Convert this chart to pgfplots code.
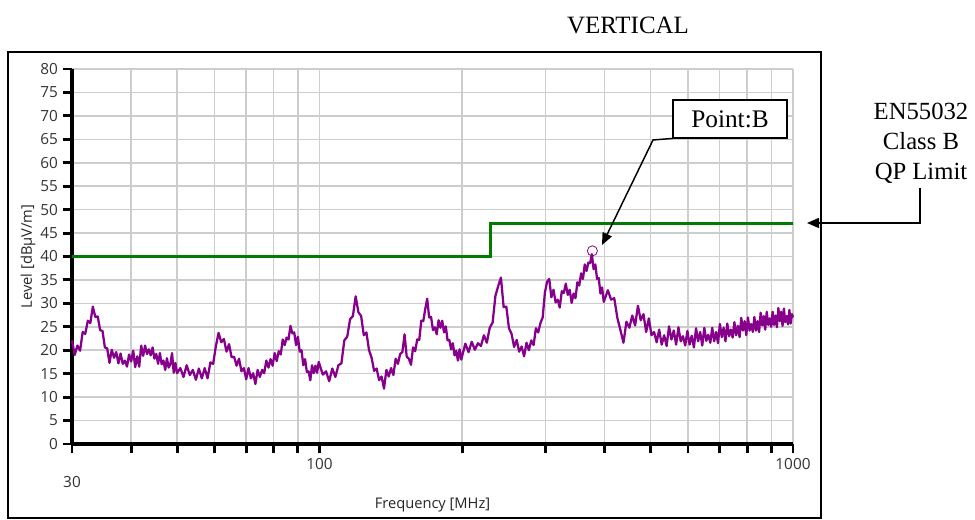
\documentclass[border=0pt]{standalone}
\usepackage{fontspec}
\setmainfont{Liberation Serif}
\newfontfamily\segoe{Open Sans}
\usepackage{pgfplots}
\usepackage{pgfplotstable}
\pgfplotsset{compat=1.18}
\usetikzlibrary{arrows.meta}
\definecolor{trace}{RGB}{135,0,140}
\definecolor{limitgreen}{RGB}{0,125,0}
\definecolor{gridgray}{RGB}{205,205,205}

\pgfplotstableread{
f L
30.0 22.1
30.4 19.0
30.8 21.0
31.2 19.9
31.6 23.9
32.0 23.5
32.4 26.3
32.8 25.8
33.2 29.3
33.6 27.1
34.0 27.2
34.4 24.3
34.8 24.1
35.2 20.6
35.6 20.4
36.0 17.3
36.4 20.1
36.8 18.4
37.2 19.6
37.6 17.2
38.0 19.3
38.4 17.1
38.8 17.8
39.2 16.5
39.6 19.1
40.0 17.6
40.4 19.9
40.8 16.4
41.2 18.7
41.6 16.5
42.0 21.0
42.4 18.8
42.8 21.0
43.2 19.2
43.6 20.2
44.0 18.9
44.4 20.6
44.8 18.2
45.2 19.2
45.6 17.1
46.0 19.4
46.4 17.0
46.8 17.8
47.2 15.8
47.6 18.3
48.0 16.3
48.4 17.0
48.8 19.4
49.2 15.2
49.6 17.3
50.0 15.1
50.8 16.2
51.6 14.3
52.4 16.8
53.2 14.7
54.0 15.8
54.8 13.7
55.6 16.1
56.4 14.0
57.2 16.2
58.0 14.0
58.8 17.4
59.6 17.1
60.4 20.9
61.2 23.7
62.0 21.7
62.8 22.4
63.6 19.7
64.4 21.3
65.2 18.5
66.0 18.6
66.8 16.7
67.6 18.2
68.4 15.5
69.2 16.2
70.0 13.8
70.8 16.2
71.6 14.0
72.4 15.1
73.2 12.8
74.0 15.8
74.8 14.3
75.6 15.8
76.4 15.1
77.2 17.8
78.0 16.3
78.8 18.1
79.6 16.7
80.4 19.4
81.2 17.7
82.0 19.8
82.8 19.1
83.6 22.3
84.4 21.1
85.2 22.7
86.0 22.3
86.8 25.2
87.6 23.6
88.4 23.8
89.2 21.1
90.0 22.9
90.8 19.7
91.6 20.0
92.4 16.8
93.2 18.1
94.0 15.4
94.8 15.5
95.6 13.6
96.4 16.8
97.2 15.1
98.0 16.7
98.8 15.2
99.6 17.5
101.6 14.8
103.2 15.5
104.8 13.4
106.4 16.1
108.0 14.3
109.6 16.8
111.2 17.2
112.8 22.1
114.4 22.9
116.0 26.6
117.6 27.3
119.2 31.5
120.8 28.1
122.4 27.3
124.0 23.2
125.6 23.8
127.2 20.0
128.8 18.4
130.4 15.6
132.0 16.1
133.6 13.6
135.2 14.4
136.8 11.8
138.4 15.8
140.0 14.4
141.6 16.2
143.2 14.7
144.8 18.2
146.4 17.1
148.0 19.2
149.6 19.6
151.2 23.4
152.8 18.6
154.4 18.2
156.0 16.9
157.6 20.6
159.2 19.8
160.8 22.3
162.4 22.2
164.0 26.3
165.6 26.2
167.2 28.8
168.8 31.0
170.4 27.0
172.0 27.1
173.6 24.3
175.2 24.9
176.8 23.4
178.4 26.4
180.0 24.8
181.6 26.3
183.2 23.8
184.8 25.1
186.4 22.1
188.0 22.2
189.6 20.2
191.2 21.5
192.8 18.9
194.4 19.9
196.0 17.8
197.6 20.2
199.2 18.0
203.2 21.4
206.4 19.6
209.6 21.8
212.8 20.1
216.0 21.5
219.2 20.9
222.4 23.2
225.6 21.6
228.8 24.8
232.0 25.9
235.2 31.6
238.4 33.7
241.6 35.5
244.8 29.2
248.0 29.3
251.2 24.7
254.4 23.5
257.6 20.7
260.8 22.2
264.0 19.7
267.2 20.8
270.4 18.7
273.6 21.6
276.8 20.0
280.0 22.1
283.2 21.1
286.4 24.7
289.6 23.8
292.8 25.8
296.0 27.0
299.2 32.3
302.4 34.6
305.6 35.2
308.8 31.3
312.0 32.9
315.2 30.2
318.4 30.8
321.6 29.1
324.8 32.6
328.0 32.2
331.2 34.2
334.4 31.8
337.6 32.9
340.8 30.1
344.0 32.1
347.2 31.1
350.4 34.5
353.6 33.8
356.8 36.4
360.0 35.2
363.2 38.3
366.4 36.9
369.6 38.7
372.8 38.6
376.0 40.5
379.2 37.3
382.4 38.3
385.6 35.2
388.8 35.4
392.0 32.1
395.2 33.4
398.4 30.3
406.4 32.8
412.8 30.8
419.2 31.1
425.6 26.9
432.0 24.3
438.4 21.6
444.8 26.1
451.2 24.8
457.6 27.4
464.0 25.3
470.4 29.5
476.8 26.4
483.2 27.7
489.6 23.9
496.0 26.8
502.4 23.2
508.8 23.9
515.2 21.7
521.6 24.4
528.0 21.2
534.4 23.2
540.8 20.9
547.2 25.1
553.6 22.3
560.0 24.2
566.4 21.2
572.8 24.9
579.2 21.9
585.6 23.0
592.0 21.0
598.4 24.1
604.8 21.2
611.2 23.1
617.6 20.6
624.0 24.7
630.4 21.9
636.8 23.9
643.2 21.0
649.6 24.8
656.0 22.0
662.4 23.3
668.8 21.6
675.2 24.8
681.6 21.9
688.0 23.9
694.4 21.5
700.8 25.6
707.2 22.8
713.6 24.8
720.0 21.9
726.4 25.7
732.8 23.0
739.2 24.4
745.6 22.7
752.0 26.0
758.4 23.2
764.8 25.2
771.2 22.8
777.6 26.9
784.0 24.2
790.4 26.2
796.8 23.2
803.2 27.0
809.6 24.2
816.0 25.6
822.4 23.9
828.8 27.1
835.2 24.2
841.6 26.2
848.0 23.9
854.4 28.0
860.8 25.3
867.2 27.3
873.6 24.4
880.0 28.2
886.4 25.4
892.8 26.8
899.2 25.0
905.6 28.2
912.0 25.4
918.4 27.4
924.8 24.9
931.2 29.0
937.6 26.2
944.0 28.2
950.4 25.2
956.8 28.9
963.2 26.0
969.6 27.3
976.0 25.5
982.4 28.6
988.8 25.7
995.2 27.7
1000 27.0
}\emission

\pgfplotstableread{
f L
30 40
230 40
230 47
1000 47
}\limitline

\begin{document}
\begin{tikzpicture}
\useasboundingbox (-54pt,-57pt) rectangle (677.25pt,333pt);
\fill[white] (-54pt,-57pt) rectangle (677.25pt,333pt);
% chart frame
\draw[black, line width=1.3pt] (-48pt,-55.5pt) rectangle (561.75pt,294pt);
\begin{axis}[
  at={(0pt,0pt)}, anchor=south west,
  scale only axis,
  width=540.75pt, height=281.25pt,
  xmode=log,
  xmin=30, xmax=1000,
  ymin=0, ymax=80,
  ytick={0,5,...,80},
  xtick={100,1000},
  xticklabels={100,1000},
  minor xtick={40,50,60,70,80,90,200,300,400,500,600,700,800,900},
  extra x ticks={30},
  extra x tick labels={30},
  extra x tick style={grid=none, xticklabel style={yshift=-13.5pt}},
  axis x line*=bottom,
  axis y line*=left,
  x axis line style={line width=2.4pt, black},
  y axis line style={line width=2.4pt, black},
  tick align=outside,
  major tick length=7pt,
  minor tick length=7pt,
  tick style={black, line width=2.2pt},
  major tick style={black, line width=2.2pt},
  minor tick style={black, line width=2.2pt},
  grid=both,
  major grid style={gridgray, line width=1.2pt},
  minor grid style={gridgray, line width=1.2pt},
  /pgf/number format/assume math mode=true,
  tick label style={font=\segoe\fontsize{11.5}{13}\selectfont, text=black!80},
  xlabel={Frequency [MHz]},
  ylabel={Level [dBµV/m]},
  label style={font=\segoe\fontsize{11}{13}\selectfont, text=black!85},
  xlabel style={at={(axis description cs:0.5,-0.163)}, anchor=center},
  ylabel style={at={(axis description cs:-0.061,0.5)}, anchor=center},
  clip=false,
]
\addplot[limitgreen, line width=2.2pt] table[x=f, y=L] {\limitline};
\addplot[trace, line width=1.7pt, line join=round] table[x=f, y=L] {\emission};
\addplot[trace, only marks, mark=o, mark size=3.8pt, mark options={line width=0.6pt}] coordinates {(377,41.2)};
\end{axis}
% annotations
\node[font=\fontsize{18.7}{22}\selectfont] at (417pt,314.25pt) {VERTICAL};
\draw[black, line width=1.1pt, fill=white] (450.75pt,229.5pt) rectangle (536.25pt,258pt);
\node[font=\fontsize{19}{22}\selectfont] at (493.5pt,243.75pt) {Point:B};
\draw[black, line width=1.1pt, -{Triangle[length=9pt,width=7.5pt]}] (450.75pt,229.2pt) -- (435.75pt,228pt) -- (397.5pt,149.25pt);
\node[align=center, font=\fontsize{18.5}{22.5}\selectfont] at (636.75pt,225.75pt) {EN55032\\Class B\\QP Limit};
\draw[black, line width=1.1pt, -{Triangle[length=9pt,width=7.5pt]}] (636pt,192pt) -- (636pt,165.75pt) -- (551.25pt,165.75pt);
\end{tikzpicture}
\end{document}
